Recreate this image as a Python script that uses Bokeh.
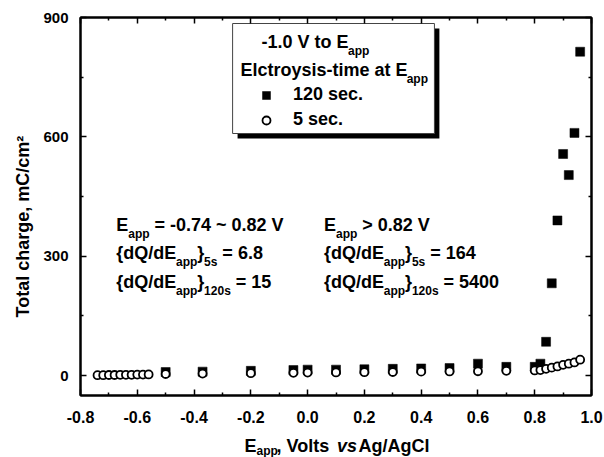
import numpy as np
from bokeh.plotting import figure
from bokeh.models import (Range1d, FixedTicker, LinearAxis, Label, Legend, LegendItem)
from bokeh.embed import file_html
from bokeh.resources import INLINE

# ---------------- data ----------------
x_5s = [-0.74, -0.72, -0.70, -0.68, -0.66, -0.64, -0.62, -0.60, -0.58, -0.56,
        -0.50, -0.37, -0.20, -0.05, 0.00, 0.10, 0.20, 0.30, 0.40, 0.50, 0.60,
        0.70, 0.80, 0.82, 0.84, 0.86, 0.88, 0.90, 0.92, 0.94, 0.96]
q_5s = [1, 1, 1.5, 1.5, 2, 2, 2, 2.5, 2.5, 3,
        4, 5, 6, 7, 7.5, 8, 8.5, 9, 10, 10.5, 11,
        12, 13, 14, 17, 20, 23, 27, 30, 33, 40]

x_120s = [-0.50, -0.37, -0.20, -0.05, 0.00, 0.10, 0.20, 0.30, 0.40, 0.50, 0.60,
          0.70, 0.80, 0.82, 0.84, 0.86, 0.88, 0.90, 0.92, 0.94, 0.96]
q_120s = [9, 10, 12, 14, 15, 15, 16, 17, 18, 19, 30,
          22, 22, 30, 85, 232, 390, 557, 504, 610, 814]

x_tick_values = [-0.8, -0.6, -0.4, -0.2, 0.0, 0.2, 0.4, 0.6, 0.8, 1.0]
x_tick_labels = ["-0.8", "-0.6", "-0.4", "-0.2", "0.0", "0.2", "0.4", "0.6", "0.8", "1.0"]
x_minor_values = [-0.7, -0.5, -0.3, -0.1, 0.1, 0.3, 0.5, 0.7, 0.9]
y_tick_values = [0, 300, 600, 900]
y_tick_labels = ["0", "300", "600", "900"]
y_minor_values = [150, 450, 750]

# ---------------- layout ----------------
FONT = "Liberation Sans"
X0, X1 = -0.8, 1.0
Y0, Y1 = -50, 900
W, H = 604, 457
BL, BR, BT, BB = 77, 13, 17, 62
FW, FH = W - BL - BR, H - BT - BB
KX, KY = (X1 - X0) / FW, (Y1 - Y0) / FH
NB = "\u00a0"


def dx(px):
    return X0 + (px - BL) * KX


def dy(py):
    return Y1 - (py - BT) * KY


CW = {' ': 278, NB: 278, '!': 333, '-': 333, '.': 278, '/': 278, ',': 278, '=': 584,
      '>': 584, '~': 584, '{': 389, '}': 389,
      'A': 722, 'C': 722, 'E': 667, 'Q': 778, 'V': 667, 'T': 611,
      'a': 556, 'c': 556, 'd': 611, 'e': 556, 'g': 611, 'h': 611, 'i': 278,
      'l': 278, 'm': 889, 'o': 611, 'p': 611, 'r': 389, 's': 556, 't': 333,
      'v': 556, 'y': 556}


def tw(s, size):
    return sum(CW.get(c, 556) for c in s) / 1000.0 * size


p = figure(width=W, height=H, output_backend="svg", toolbar_location=None,
           x_range=Range1d(X0, X1), y_range=Range1d(Y0, Y1),
           min_border_left=BL, min_border_right=BR, min_border_top=BT,
           min_border_bottom=BB, background_fill_color="white",
           border_fill_color="white")
p.grid.visible = False
p.outline_line_color = "black"
p.outline_line_width = 2


def style_axis(ax, labels=True, size="16px"):
    ax.axis_line_width = 2
    ax.axis_line_color = "black"
    ax.major_tick_in = 6
    ax.major_tick_out = 0
    ax.minor_tick_in = 3
    ax.minor_tick_out = 0
    ax.major_tick_line_width = 1.5
    ax.minor_tick_line_width = 1.5
    ax.major_tick_line_color = "black"
    ax.minor_tick_line_color = "black"
    ax.major_label_text_font = FONT
    ax.major_label_text_font_style = "bold"
    if labels:
        ax.major_label_text_color = "black"
        ax.major_label_text_font_size = size
    else:
        ax.major_label_text_color = None
        ax.major_label_text_font_size = "1px"
        ax.major_label_standoff = 0


xt = FixedTicker(ticks=x_tick_values, minor_ticks=x_minor_values)
yt = FixedTicker(ticks=y_tick_values, minor_ticks=y_minor_values)
p.xaxis.ticker = xt
p.yaxis.ticker = yt
p.xaxis.major_label_overrides = {v: s for v, s in zip(x_tick_values, x_tick_labels)}
p.yaxis.major_label_overrides = {v: s for v, s in zip(y_tick_values, y_tick_labels)}
style_axis(p.xaxis[0], size="16px")
style_axis(p.yaxis[0], size="15px")
p.xaxis.major_label_standoff = 15
p.yaxis.major_label_standoff = 12

top_ax = LinearAxis(ticker=xt)
style_axis(top_ax, labels=False)
p.add_layout(top_ax, "above")
right_ax = LinearAxis(ticker=yt)
style_axis(right_ax, labels=False)
p.add_layout(right_ax, "right")

# ---------------- legend frame ----------------
p.quad(left=[dx(235)], right=[dx(438)], top=[dy(28)], bottom=[dy(138)],
       fill_color="black", line_color=None)
p.quad(left=[dx(230)], right=[dx(433)], top=[dy(23)], bottom=[dy(133)],
       fill_color="white", line_color="#444444", line_width=1)

# ---------------- data marks ----------------
sq = p.scatter(x_120s, q_120s, marker="square", size=9, fill_color="black",
               line_color="black", line_width=0.5)
ci = p.scatter(x_5s, q_5s, marker="circle", size=8, fill_color="white",
               line_color="black", line_width=1.8)


def lab(x_px, y_px, text, size=18, style="bold", angle=0.0, place=None):
    yb = y_px - 0.22 * size if angle == 0 else y_px
    l = Label(x=dx(x_px), y=dy(yb), text=text, angle=angle,
              text_font=FONT, text_font_size=f"{size}px",
              text_font_style=style, text_color="black",
              text_baseline="alphabetic", text_align="left")
    if place is None:
        p.add_layout(l)
    else:
        p.add_layout(l, place)


def rich(x_px, y_px, segs, main=18, sub=12):
    x = x_px
    for text, kind in segs:
        size = main if kind == "n" else sub
        off = 8 if kind == "sub" else 0
        stripped = text.lstrip(" ")
        x += tw(text[:len(text) - len(stripped)], size)
        lab(x, y_px + off, stripped, size=size)
        x += tw(stripped, size)


rich(259, 45, [("-1.0 V to E", "n"), ("app", "sub")])
rich(238, 73, [("Elctroysis-time at E", "n"), ("app", "sub")])

legend = Legend(items=[LegendItem(label="120 sec.", renderers=[sq]),
                       LegendItem(label="5 sec.", renderers=[ci])],
                location=(176, 265), orientation="vertical",
                glyph_width=20, glyph_height=20, label_height=20, spacing=4,
                label_standoff=17, padding=0, margin=0,
                border_line_color=None, background_fill_alpha=0,
                label_text_font=FONT, label_text_font_style="bold",
                label_text_font_size="18px", label_text_color="black")
p.add_layout(legend)

# ---------------- annotations ----------------
rich(113, 228, [("E", "n"), ("app", "sub"), (" = -0.74 ~ 0.82 V", "n")])
rich(113, 256, [("{dQ/dE", "n"), ("app", "sub"), ("}", "n"), ("5s", "sub"), (" = 6.8", "n")])
rich(113, 285, [("{dQ/dE", "n"), ("app", "sub"), ("}", "n"), ("120s", "sub"), (" = 15", "n")])
rich(322, 228, [("E", "n"), ("app", "sub"), (" > 0.82 V", "n")])
rich(322, 256, [("{dQ/dE", "n"), ("app", "sub"), ("}", "n"), ("5s", "sub"), (" = 164", "n")])
rich(322, 285, [("{dQ/dE", "n"), ("app", "sub"), ("}", "n"), ("120s", "sub"), (" = 5400", "n")])

# ---------------- axis titles (side panels: not clipped by the frame) ----------------
xt0 = 242
gap_app = NB * 4
gap_vs = NB * 4
x_main = "E" + gap_app + ", Volts " + gap_vs + " Ag/AgCl"
lab(xt0, 449, x_main, place="below")
lab(xt0 + tw("E", 18), 453, "app", size=12, place="above")
lab(xt0 + tw("E" + gap_app + ", Volts ", 18) + 2, 449, "vs", style="bold italic", place="left")

ytitle = "Total charge, mC/cm\u00b2"
lab(19, 317, ytitle, angle=np.pi / 2, place="left")

open("out.html", "w").write(file_html(p, INLINE))
